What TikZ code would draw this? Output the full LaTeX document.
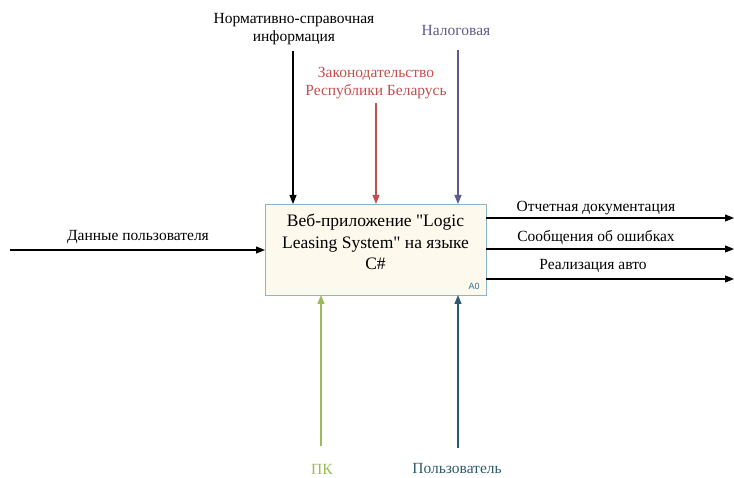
\documentclass[tikz,border=0pt]{standalone}
\usepackage{fontspec}
\setmainfont{Liberation Serif}
\setsansfont{Liberation Sans}
\newfontfamily\lser{Liberation Serif}
\usetikzlibrary{arrows.meta}
\definecolor{boxborder}{HTML}{8DB4CA}
\definecolor{boxfill}{HTML}{FDF9EC}
\definecolor{cred}{HTML}{C0504D}
\definecolor{cpurple}{HTML}{5E5A8C}
\definecolor{cgreen}{HTML}{9BBB59}
\definecolor{cteal}{HTML}{2E5A6E}
\definecolor{azero}{HTML}{3C6B8C}
\tikzset{
  conn/.style={line width=1.1pt,-{Triangle[length=9pt,width=7pt]}},
  lbl/.style={font=\lser\fontsize{15.5pt}{18.5pt}\selectfont,align=center,inner sep=0pt},
  mainbox/.style={draw=boxborder,fill=boxfill,line width=0.8pt,minimum width=221pt,minimum height=91pt,inner sep=0pt}
}
\begin{document}
\begin{tikzpicture}[x=1pt,y=-1pt]
\useasboundingbox (0,0) rectangle (734,478);
\node[mainbox] (box) at (375.5,249.5) {};
\node[font=\lser\fontsize{17.5pt}{21.5pt}\selectfont,align=center,inner sep=0pt] (boxtext) at (375.5,242) {Веб-приложение {\symbol{34}}Logic\\Leasing System{\symbol{34}} на языке\\C\#};
\node[font=\sffamily\fontsize{9pt}{10pt}\selectfont,text=azero,inner sep=0pt] (a0) at (474,286) {A0};
% input
\coordinate (inS) at (10,250);
\coordinate (inE) at (265,250);
\node[lbl] (inL) at (138,237) {Данные пользователя};
\draw[conn] (inS) -- (inE);
% controls
\node[lbl] (c1L) at (294,29) {Нормативно-справочная\\информация};
\coordinate (c1S) at (293,51);
\coordinate (c1E) at (293,204);
\draw[conn] (c1S) -- (c1E);
\node[lbl,text=cred] (c2L) at (376,83) {Законодательство\\Республики Беларусь};
\coordinate (c2S) at (376,103);
\coordinate (c2E) at (376,204);
\draw[conn,draw=cred,fill=cred] (c2S) -- (c2E);
\node[lbl,text=cpurple] (c3L) at (456,31) {Налоговая};
\coordinate (c3S) at (458,50);
\coordinate (c3E) at (458,204);
\draw[conn,draw=cpurple,fill=cpurple] (c3S) -- (c3E);
% mechanisms
\node[lbl,text=cgreen] (m1L) at (322,469) {ПК};
\coordinate (m1S) at (321,446);
\coordinate (m1E) at (321,295);
\draw[conn,draw=cgreen,fill=cgreen] (m1S) -- (m1E);
\node[lbl,text=cteal] (m2L) at (457,469) {Пользователь};
\coordinate (m2S) at (458,448);
\coordinate (m2E) at (458,295);
\draw[conn,draw=cteal,fill=cteal] (m2S) -- (m2E);
% outputs
\coordinate (o1S) at (486,218);
\coordinate (o1E) at (734,218);
\node[lbl] (o1L) at (596,208) {Отчетная документация};
\draw[conn] (o1S) -- (o1E);
\coordinate (o2S) at (486,249);
\coordinate (o2E) at (734,249);
\node[lbl] (o2L) at (596,238) {Сообщения об ошибках};
\draw[conn] (o2S) -- (o2E);
\coordinate (o3S) at (486,279);
\coordinate (o3E) at (734,279);
\node[lbl] (o3L) at (593,266) {Реализация авто};
\draw[conn] (o3S) -- (o3E);
\end{tikzpicture}
\end{document}
